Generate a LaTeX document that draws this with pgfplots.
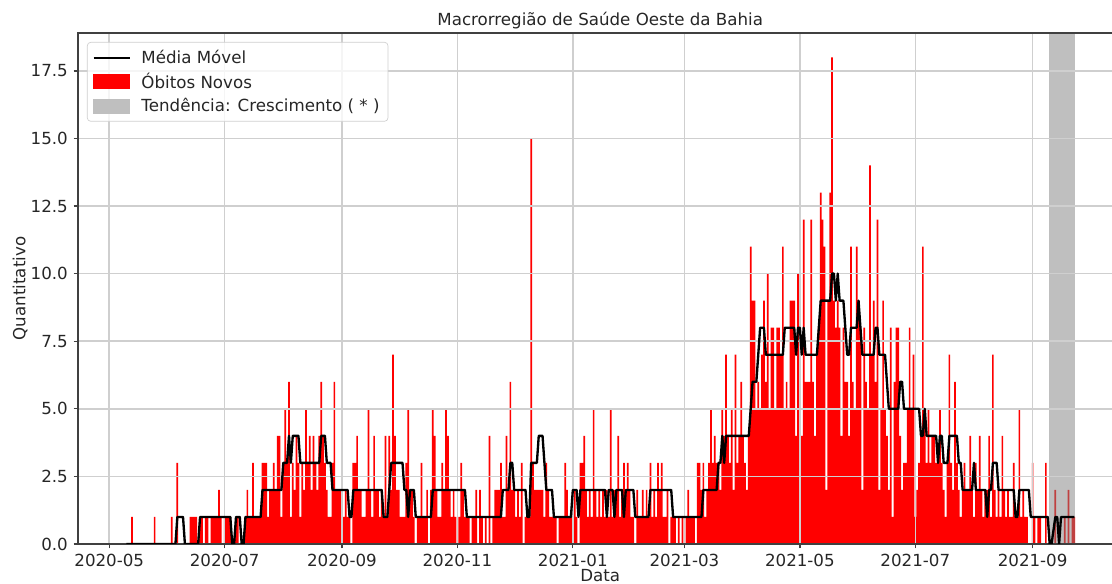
\documentclass[border=0pt]{standalone}
\usepackage{fontspec}
\setmainfont{DejaVu Sans}
\usepackage{pgfplots}
\pgfplotsset{compat=1.18}

\definecolor{txt}{HTML}{262626}
\definecolor{gridc}{HTML}{CFCFCF}
\definecolor{spine}{HTML}{404040}

\begin{document}
\begin{tikzpicture}
\begin{axis}[
  set layers,
  scale only axis,
  width=626.7pt, height=306.6pt,
  xmin=-16.5, xmax=535.5, ymin=0, ymax=18.9,
  xtick={0,61,123,184,245,304,365,426,488},
  xticklabels={2020-05,2020-07,2020-09,2020-11,2021-01,2021-03,2021-05,2021-07,2021-09},
  ytick={0,2.5,5,7.5,10,12.5,15,17.5},
  y tick label style={/pgf/number format/.cd, fixed, fixed zerofill, precision=1, /tikz/.cd},
  /pgf/number format/assume math mode=true,
  grid=major,
  major grid style={line width=0.9pt, color=gridc},
  axis line style={line width=0.8pt, color=spine},
  tick style={line width=0.8pt, color=spine},
  tick align=outside, xtick pos=bottom, ytick pos=left,
  major tick length=2.6pt,
  tick label style={font=\fontsize{10}{12}\selectfont, color=txt},
  title={Macrorregião de Saúde Oeste da Bahia},
  title style={font=\fontsize{10}{12}\selectfont, color=txt, at={(0.5,1)}, anchor=base, yshift=-1.5pt},
  xlabel={Data},
  xlabel style={font=\fontsize{10}{12}\selectfont, color=txt, at={(axis description cs:0.5,0)}, anchor=north, yshift=-15.2pt, inner sep=0pt},
  ylabel={Quantitativo},
  ylabel style={font=\fontsize{10}{12}\selectfont, color=txt, rotate=0, at={([xshift=-34.8pt]axis description cs:0,0.5)}, anchor=center},
  legend cell align=left,
  legend style={at={(0,1)}, anchor=north west, xshift=5.4pt, yshift=-5.4pt,
    draw=gridc, rounded corners=2pt, fill=white, fill opacity=0.8, text opacity=1,
    font=\fontsize{10}{12}\selectfont, text=txt, row sep=0.3pt, column sep=4.5pt,
    inner xsep=3pt, inner ysep=2.5pt},
]
\addlegendimage{legend image code/.code={\draw[black, line width=1.4pt, draw opacity=1, sharp corners] (0pt,0pt) -- (21.6pt,0pt);}}
\addlegendentry{Média Móvel}
\addlegendimage{legend image code/.code={\fill[red, fill opacity=1, sharp corners] (0pt,-4.2pt) rectangle (21.6pt,4.2pt);}}
\addlegendentry{Óbitos Novos}
\addlegendimage{legend image code/.code={\fill[gray!50, fill opacity=1, sharp corners] (0pt,-4.2pt) rectangle (21.6pt,4.2pt);}}
\addlegendentry{Tendência: Crescimento ( * )}

% daily deaths (day 0 = 2020-05-01)
\addplot[forget plot, on layer=axis background, ybar, bar width=0.9, bar shift=0pt, fill=red, draw=none] coordinates {
(12,1) (24,1) (33,1) (36,3) (43,1) (44,1) (45,1) (46,1) (48,1) (49,1) (51,1) (52,1) (54,1) (55,1) (56,1) (57,1) (58,2) (59,1)
(61,1) (62,1) (63,1) (64,1) (67,1) (68,1) (72,1) (73,2) (74,1) (75,1) (76,3) (77,1) (78,1) (79,1) (80,1)
(81,3) (82,3) (83,3) (84,1) (85,2) (86,2) (87,3) (88,2) (89,4) (90,4) (91,1) (92,3) (93,5) (94,3) (95,6) (96,1) (97,3) (98,2)
(99,4) (100,3) (101,1) (102,3) (103,2) (104,5) (105,3) (106,4) (107,2) (108,4) (109,3) (110,2) (111,4) (112,6) (113,4) (114,3)
(115,2) (116,1) (117,1) (118,3) (119,6) (120,2) (121,2) (122,2) (123,3) (124,1) (125,2) (126,1) (127,1) (129,3) (130,3) (131,4)
(132,2) (133,2) (134,1) (135,1) (136,2) (137,5) (138,2) (139,1) (140,4) (141,2) (142,2) (143,1) (144,2) (145,1) (146,4) (147,1)
(148,4) (149,2) (150,7) (151,4) (152,2) (153,2) (154,1) (155,1) (156,1) (157,3) (158,5) (159,2) (160,2) (161,1) (163,1) (164,1)
(165,3) (166,1) (167,1) (168,2) (170,2) (171,5) (172,4) (173,2) (174,1) (175,1) (176,3) (177,2) (178,5) (179,4) (180,2) (181,1)
(182,2) (183,1) (185,1) (186,3) (187,2) (188,1) (189,1) (190,1) (192,1) (193,1) (194,2) (196,2) (197,1) (199,1) (201,4) (203,1)
(204,2) (205,2) (206,2) (207,3) (208,1) (209,1) (210,4) (211,2) (212,6) (213,2) (214,2) (215,1) (216,2) (217,1) (218,3) (220,1)
(221,1) (222,1) (223,15) (224,3) (225,2) (226,2) (227,2) (228,2) (229,2) (230,1) (231,3) (232,2) (233,1) (234,1) (235,1) (236,1)
(238,1) (239,1) (240,1) (241,3) (242,2) (243,1) (244,1) (246,2) (247,1) (249,3) (250,3) (251,4) (252,2) (253,1) (254,2) (255,1)
(256,5) (257,2) (258,1) (259,2) (260,1) (261,2) (262,1) (263,2) (264,1) (265,5) (266,1) (267,2) (268,2) (269,4) (270,1) (271,2)
(272,3) (273,2) (274,3) (275,2) (276,1) (277,1) (279,2) (280,1) (281,1) (282,2) (283,1) (284,2) (285,1) (286,3) (287,1) (288,2)
(289,1) (290,3) (291,2) (292,3) (293,1) (294,1) (295,2) (297,1) (298,1) (299,1) (301,1) (303,1) (305,1) (306,2) (307,1) (308,1)
(309,1) (311,3) (312,3) (313,2) (314,3) (315,1) (316,2) (317,3) (318,5) (319,3) (320,4) (321,3) (322,3) (323,2) (324,5) (325,4)
(326,7) (327,4) (328,3) (329,5) (330,2) (331,7) (332,3) (333,4) (334,6) (335,4) (336,3) (337,2) (338,4) (339,11) (340,9) (341,9)
(342,5) (343,6) (344,5) (345,7) (346,9) (347,6) (348,10) (349,5) (350,8) (351,8) (352,5) (353,8) (354,8) (355,7) (356,11) (357,5)
(358,6) (359,5) (360,9) (361,9) (362,9) (363,4) (364,10) (365,8) (366,4) (367,12) (368,6) (369,6) (370,6) (371,12) (372,6) (373,4)
(374,7) (375,8) (376,13) (377,12) (378,11) (379,2) (380,9) (381,13) (382,18) (383,9) (384,8) (385,9) (386,8) (387,4) (388,8) (389,6)
(390,6) (391,4) (392,11) (393,6) (394,5) (395,11) (396,9) (397,8) (398,2) (399,8) (400,6) (401,5) (402,14) (403,7) (404,9) (405,6)
(406,12) (407,2) (408,5) (409,9) (410,5) (411,4) (412,2) (413,8) (414,1) (415,6) (416,8) (417,8) (418,4) (419,2) (420,3) (421,3)
(422,5) (423,8) (424,5) (425,7) (426,1) (427,2) (428,3) (429,4) (430,11) (431,5) (432,3) (433,5) (434,3) (435,4) (436,4) (437,3)
(438,3) (439,5) (440,3) (441,2) (442,1) (443,3) (444,7) (445,3) (446,2) (447,6) (448,3) (449,2) (450,1) (451,2) (452,3) (453,2)
(454,2) (455,4) (456,2) (457,1) (458,3) (459,2) (460,4) (461,2) (462,1) (463,2) (464,2) (465,4) (466,1) (467,7) (468,2) (469,1)
(470,2) (471,1) (472,4) (473,2) (474,1) (475,2) (476,1) (477,1) (478,3) (479,1) (480,1) (481,5) (482,1) (483,2) (484,1) (485,1)
(488,3) (489,1) (491,1) (492,1) (495,3) (500,2) (505,1) (507,2) (509,1) (510,1)
};

% trend span
\addplot[forget plot, on layer=axis background, fill=gray, fill opacity=0.5, draw=none] coordinates {(496.7,18.9) (510.2,18.9)} \closedcycle;

% moving average
\addplot[forget plot, black, line width=1.4pt, line join=round] coordinates {
(9,0) (35,0) (36,1) (39,1) (40,0) (47,0) (48,1) (64,1) (65,0) (66,0) (67,1) (69,1) (70,0) (71,0) (72,1) (80,1) (81,2)
(91,2) (92,3) (94,3) (95,4) (96,3) (97,4) (100,4) (101,3) (111,3) (112,4) (114,4) (115,3) (117,3) (118,2) (126,2) (127,1)
(128,1) (129,2) (144,2) (145,1) (147,1) (148,2) (149,3) (155,3) (156,2) (157,2) (158,1) (159,2) (161,2) (162,1) (170,1)
(171,2) (188,2) (189,1) (207,1) (208,2) (211,2) (212,3) (213,3) (214,2) (220,2) (221,1) (222,1) (223,3) (226,3) (227,4)
(229,4) (230,3) (231,2) (234,2) (235,1) (244,1) (245,2) (247,2) (248,1) (249,2) (262,2) (263,1) (264,2) (266,2) (267,1)
(268,2) (271,2) (272,1) (273,2) (277,2) (278,1) (285,1) (286,2) (297,2) (298,1) (313,1) (314,2) (321,2) (322,3) (323,3)
(324,4) (325,3) (326,4) (338,4) (339,5) (340,6) (342,6) (343,7) (344,8) (346,8) (347,7) (356,7) (357,8) (362,8) (363,7)
(364,8) (365,8) (366,7) (367,8) (368,7) (374,7) (375,8) (376,9) (381,9) (382,10) (383,10) (384,9) (385,10) (386,9) (388,9)
(389,8) (390,7) (391,7) (392,8) (395,8) (396,9) (397,8) (398,7) (404,7) (405,8) (406,8) (407,7) (410,7) (411,6) (412,5)
(417,5) (418,6) (419,6) (420,5) (428,5) (429,4) (430,4) (431,5) (432,4) (437,4) (438,3) (439,4) (440,4) (441,3) (443,3)
(444,4) (448,4) (449,3) (450,3) (451,2) (456,2) (457,3) (458,2) (463,2) (464,1) (465,2) (466,2) (467,3) (469,3) (470,2)
(478,2) (479,1) (480,1) (481,2) (486,2) (487,1) (496,1) (497,0) (498,0) (500,1) (501,1) (502,0) (503,1) (510,1)
};
\end{axis}
\pgfresetboundingbox
\path[use as bounding box] ([shift={(-46.8pt,-24pt)}]current axis.south west) rectangle ++(667.2pt,350.4pt);
\end{tikzpicture}
\end{document}
